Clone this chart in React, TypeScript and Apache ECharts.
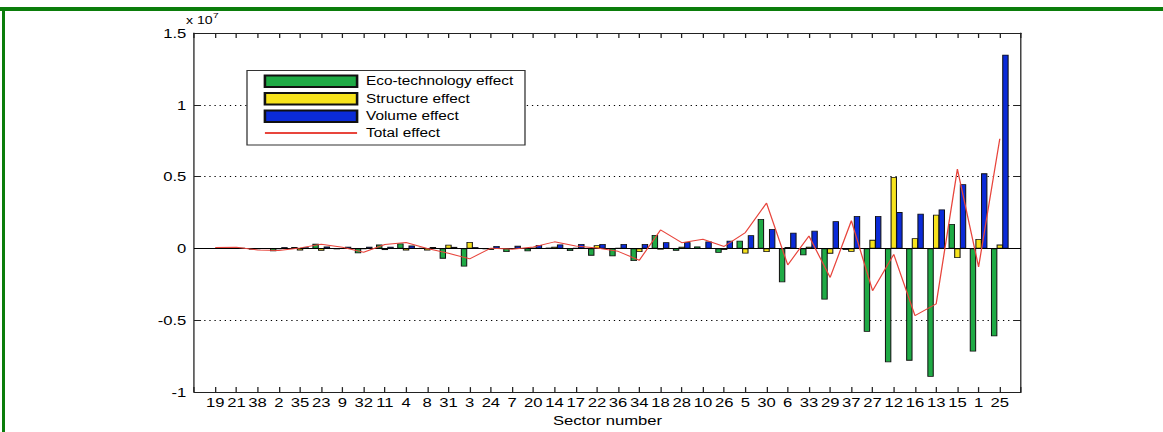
import { useEffect, useRef } from "react";
import * as echarts from "echarts";

// the source picture is stretched sideways, so the chart is drawn narrower and widened with CSS
const S = 1.28;
const W = 1163 / S;
const FONT = "'Liberation Sans', Arial, sans-serif";

const sectors = [
  "19", "21", "38", "2", "35", "23", "9", "32", "11", "4", "8", "31", "3",
  "24", "7", "20", "14", "17", "22", "36", "34", "18", "28", "10", "26", "5",
  "30", "6", "33", "29", "37", "27", "12", "16", "13", "15", "1", "25",
];

// values in units of 10^7
const ecoTech = [
  0.002, 0.004, -0.008, -0.02, 0.01, 0.032, -0.006, -0.034, 0.027, 0.035,
  0.004, -0.071, -0.126, -0.005, -0.025, -0.02, 0.006, -0.018, -0.05, -0.055,
  -0.088, 0.094, -0.016, 0.014, -0.03, 0.054, 0.205, -0.235, -0.048, -0.356,
  -0.01, -0.58, -0.792, -0.781, -0.893, 0.171, -0.717, -0.612,
];
const structure = [
  0.001, 0.002, -0.004, -0.004, -0.014, -0.016, 0.002, -0.004, -0.011, -0.014,
  -0.014, 0.026, 0.045, -0.01, 0.002, 0.006, 0.012, 0.004, 0.022, 0.004,
  -0.025, -0.008, 0.012, 0.002, -0.01, -0.035, -0.025, 0.01, 0.012, -0.036,
  -0.023, 0.06, 0.498, 0.071, 0.235, -0.066, 0.066, 0.027,
];
const volume = [
  0.003, 0.003, 0.002, 0.009, 0.008, 0.013, 0.012, 0.012, 0.012, 0.02,
  0.01, 0.011, 0.009, 0.017, 0.018, 0.024, 0.028, 0.031, 0.031, 0.031,
  0.031, 0.043, 0.044, 0.048, 0.054, 0.092, 0.136, 0.11, 0.123, 0.19,
  0.226, 0.226, 0.253, 0.242, 0.272, 0.447, 0.523, 1.349,
];
const total = [
  0.006, 0.009, -0.01, -0.015, 0.004, 0.029, 0.008, -0.026, 0.028, 0.041,
  0.0, -0.034, -0.072, 0.002, -0.005, 0.01, 0.046, 0.017, 0.003, -0.02,
  -0.082, 0.129, 0.04, 0.064, 0.014, 0.111, 0.316, -0.115, 0.087, -0.202,
  0.193, -0.294, -0.041, -0.468, -0.386, 0.552, -0.128, 0.764,
];

const names = ["Eco-technology effect", "Structure effect", "Volume effect", "Total effect"];
const colors = ["#1faa45", "#f7e31c", "#0b2bd8", "#e8453c"];

export default function App() {
  const chartRef = useRef<HTMLDivElement>(null);

  useEffect(() => {
    document.body.style.margin = "0";
    document.body.style.overflow = "hidden";
    if (!chartRef.current) return;

    const chart = echarts.init(chartRef.current, null, { renderer: "svg" });

    const xBase = {
      type: "value" as const,
      min: 0,
      max: 39,
      interval: 1,
      axisLine: { show: true, onZero: false, lineStyle: { color: "#222", width: 1 } },
      axisTick: { show: true, inside: true, length: 5, lineStyle: { color: "#222" } },
      splitLine: { show: false },
    };
    const yBase = {
      type: "value" as const,
      min: -1,
      max: 1.5,
      interval: 0.5,
      axisLine: { show: true, onZero: false, lineStyle: { color: "#222", width: 1 } },
      axisTick: { show: true, inside: true, length: 5.5, lineStyle: { color: "#222" } },
    };

    const bar = (i: number, values: number[]) => ({
      name: names[i],
      type: "bar" as const,
      data: values.map((v, k) => [k + 1, v]),
      barWidth: 5,
      barGap: "-12%",
      itemStyle: { color: colors[i], borderColor: "#111", borderWidth: 0.8 },
    });

    const option: echarts.EChartsOption = {
      animation: false,
      textStyle: { fontFamily: FONT, color: "#000" },
      grid: { left: 194 / S, top: 33, width: 827 / S, height: 365 },
      xAxis: [
        {
          ...xBase,
          position: "bottom",
          name: "Sector number",
          nameLocation: "middle",
          nameGap: 19,
          nameTextStyle: { fontSize: 13, color: "#000", fontFamily: FONT },
          axisLabel: {
            fontSize: 13,
            color: "#000",
            margin: 4,
            formatter: (v: number) => sectors[v - 1] ?? "",
          },
        },
        { ...xBase, position: "top", axisLabel: { show: false } },
      ],
      yAxis: [
        {
          ...yBase,
          position: "left",
          axisLabel: { fontSize: 13, color: "#000", margin: 6 },
          splitLine: { show: true, lineStyle: { color: "#000", type: [1, 3], width: 1 } },
        },
        { ...yBase, position: "right", axisLabel: { show: false }, splitLine: { show: false } },
      ],
      legend: {
        orient: "vertical",
        left: 247 / S,
        top: 70.5,
        padding: [4, 9, 6, 13],
        itemWidth: 72,
        itemHeight: 11.5,
        itemGap: 4,
        backgroundColor: "#fff",
        borderColor: "#333",
        borderWidth: 1,
        borderRadius: 0,
        textStyle: { fontSize: 12, color: "#000", lineHeight: 12, padding: [0, 0, 0, 2] },
        data: [
          { name: names[0], icon: "rect" },
          { name: names[1], icon: "rect" },
          { name: names[2], icon: "rect" },
          { name: names[3], itemStyle: { opacity: 0 } },
        ],
      },
      graphic: [
        { type: "rect", shape: { x: 0, y: 7, width: W, height: 4 }, style: { fill: "#0b7d0b" } },
        { type: "rect", shape: { x: 2 / S, y: 7, width: 3 / S, height: 425 }, style: { fill: "#0b7d0b" } },
        {
          type: "text",
          x: 186 / S,
          y: 15,
          style: { text: "x 10", fontSize: 11, fontFamily: FONT, fill: "#000", verticalAlign: "top" },
        },
        {
          type: "text",
          x: 186 / S + 21,
          y: 11,
          style: { text: "7", fontSize: 8, fontFamily: FONT, fill: "#000", verticalAlign: "top" },
        },
      ],
      series: [
        bar(0, ecoTech),
        bar(1, structure),
        bar(2, volume),
        {
          name: names[3],
          type: "line",
          data: total.map((v, k) => [k + 1, v]),
          symbol: "none",
          z: 5,
          itemStyle: { color: colors[3] },
          lineStyle: { color: colors[3], width: 1 },
          markLine: {
            silent: true,
            symbol: ["none", "none"],
            label: { show: false },
            lineStyle: { color: "#000", width: 1, type: "solid" },
            data: [{ yAxis: 0 }],
          },
        },
      ],
    };

    chart.setOption(option);

    return () => {
      chart.dispose();
    };
  }, []);

  return (
    <div
      ref={chartRef}
      style={{ width: `${W}px`, height: "432px", transform: `scaleX(${S})`, transformOrigin: "0 0" }}
    />
  );
}
